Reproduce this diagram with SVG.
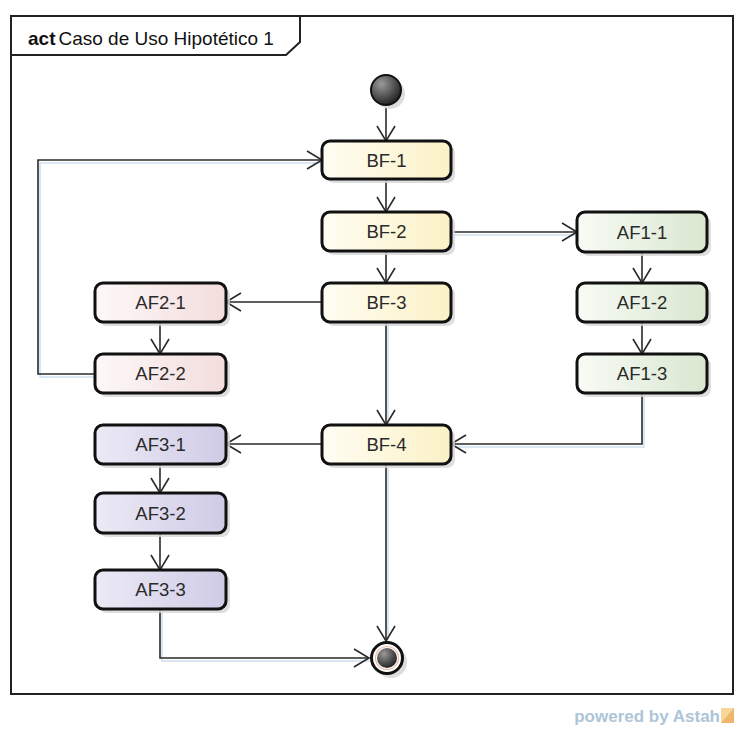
<svg xmlns="http://www.w3.org/2000/svg" width="737" height="735" viewBox="0 0 737 735">
  <defs>
    <style>
      .frame { fill: none; stroke: #222; stroke-width: 2; }
      .act { fill: #fff; stroke: #111; stroke-width: 3; }
      .shadow { fill: #d6d6d6; opacity: 0.8; }
      .lbl { font-family: "Liberation Sans", Arial, sans-serif; font-size: 18.5px; fill: #2a2a2a; text-anchor: middle; }
      .edge { fill: none; stroke: #2a2a2a; stroke-width: 1.6; }
      .edge-sh { fill: none; stroke: #cfe0ee; stroke-width: 1.6; }
    </style>
    <linearGradient id="gBF" x1="0" y1="0" x2="1" y2="0">
      <stop offset="0" stop-color="#fffdf3"/>
      <stop offset="1" stop-color="#fbf1c6"/>
    </linearGradient>
    <linearGradient id="gAF1" x1="0" y1="0" x2="1" y2="0">
      <stop offset="0" stop-color="#f8fbf5"/>
      <stop offset="1" stop-color="#d9e7d0"/>
    </linearGradient>
    <linearGradient id="gAF2" x1="0" y1="0" x2="1" y2="0">
      <stop offset="0" stop-color="#fdf8f8"/>
      <stop offset="1" stop-color="#f3dcdc"/>
    </linearGradient>
    <linearGradient id="gAF3" x1="0" y1="0" x2="1" y2="0">
      <stop offset="0" stop-color="#eceaf6"/>
      <stop offset="1" stop-color="#cfcbe6"/>
    </linearGradient>
    <radialGradient id="gDot" cx="0.35" cy="0.3" r="0.75">
      <stop offset="0" stop-color="#9a9a9a"/>
      <stop offset="1" stop-color="#1e1e1e"/>
    </radialGradient>
    <marker id="arr" markerUnits="userSpaceOnUse" markerWidth="20" markerHeight="20" viewBox="-16 -10 18 20" refX="0" refY="0" orient="auto">
      <path d="M -15 -9 L 0 0 L -15 9" fill="none" stroke="#2a2a2a" stroke-width="1.6"/>
    </marker>
  </defs>

  <rect width="737" height="735" fill="#fff"/>

  <!-- activity frame -->
  <g id="frame">
    <rect class="frame" x="11" y="16" width="722" height="678"/>
    <path d="M 11 55 L 286 55 L 300 42 L 300 16" fill="none" stroke="#222" stroke-width="2"/>
    <text x="28" y="45" font-family="Liberation Sans, Arial, sans-serif" font-size="19" fill="#111"><tspan font-weight="bold">act</tspan><tspan dx="3">Caso de Uso Hipotético 1</tspan></text>
  </g>

  <!-- connectors -->
  <g id="connectors">
    <g transform="translate(2,3)">
      <path class="edge-sh" d="M 95 374 L 38 374 L 38 160 L 322 160"/>
      <path class="edge-sh" d="M 642 393 L 642 444 L 451 444"/>
      <path class="edge-sh" d="M 160 609 L 160 658 L 369 658"/>
      <path class="edge-sh" d="M 451 232 L 577 232"/>
      <path class="edge-sh" d="M 386 464 L 386 641"/>
      <path class="edge-sh" d="M 386 322 L 386 425"/>
    </g>
    <path class="edge" marker-end="url(#arr)" d="M 386 107 L 386 141"/>
    <path class="edge" marker-end="url(#arr)" d="M 386 179 L 386 212"/>
    <path class="edge" marker-end="url(#arr)" d="M 451 232 L 577 232"/>
    <path class="edge" marker-end="url(#arr)" d="M 386 251 L 386 283"/>
    <path class="edge" marker-end="url(#arr)" d="M 322 302 L 226 302"/>
    <path class="edge" marker-end="url(#arr)" d="M 160 322 L 160 354"/>
    <path class="edge" marker-end="url(#arr)" d="M 95 374 L 38 374 L 38 160 L 322 160"/>
    <path class="edge" marker-end="url(#arr)" d="M 386 322 L 386 425"/>
    <path class="edge" marker-end="url(#arr)" d="M 642 252 L 642 283"/>
    <path class="edge" marker-end="url(#arr)" d="M 642 322 L 642 354"/>
    <path class="edge" marker-end="url(#arr)" d="M 642 393 L 642 444 L 451 444"/>
    <path class="edge" marker-end="url(#arr)" d="M 322 444 L 226 444"/>
    <path class="edge" marker-end="url(#arr)" d="M 160 464 L 160 493"/>
    <path class="edge" marker-end="url(#arr)" d="M 160 533 L 160 570"/>
    <path class="edge" marker-end="url(#arr)" d="M 160 609 L 160 658 L 369 658"/>
    <path class="edge" marker-end="url(#arr)" d="M 386 464 L 386 641"/>
  </g>

  <!-- initial node -->
  <g id="initial">
    <circle cx="390" cy="94" r="15" fill="#ddd"/>
    <circle cx="386" cy="90" r="15" fill="url(#gDot)" stroke="#111" stroke-width="2"/>
  </g>

  <!-- actions -->
  <g id="BF-1">
    <rect class="shadow" x="326" y="145" width="129" height="38" rx="8"/>
    <rect class="act" x="322" y="141" width="129" height="38" rx="8" style="fill:url(#gBF)"/>
    <text class="lbl" x="386.5" y="166.5">BF-1</text>
  </g>
  <g id="BF-2">
    <rect class="shadow" x="326" y="216" width="129" height="39" rx="8"/>
    <rect class="act" x="322" y="212" width="129" height="39" rx="8" style="fill:url(#gBF)"/>
    <text class="lbl" x="386.5" y="238">BF-2</text>
  </g>
  <g id="BF-3">
    <rect class="shadow" x="326" y="287" width="129" height="39" rx="8"/>
    <rect class="act" x="322" y="283" width="129" height="39" rx="8" style="fill:url(#gBF)"/>
    <text class="lbl" x="386.5" y="309">BF-3</text>
  </g>
  <g id="BF-4">
    <rect class="shadow" x="326" y="429" width="129" height="39" rx="8"/>
    <rect class="act" x="322" y="425" width="129" height="39" rx="8" style="fill:url(#gBF)"/>
    <text class="lbl" x="386.5" y="451">BF-4</text>
  </g>

  <g id="AF1-1">
    <rect class="shadow" x="581" y="216" width="130" height="40" rx="8"/>
    <rect class="act" x="577" y="212" width="130" height="40" rx="8" style="fill:url(#gAF1)"/>
    <text class="lbl" x="642" y="238.5">AF1-1</text>
  </g>
  <g id="AF1-2">
    <rect class="shadow" x="581" y="287" width="130" height="39" rx="8"/>
    <rect class="act" x="577" y="283" width="130" height="39" rx="8" style="fill:url(#gAF1)"/>
    <text class="lbl" x="642" y="309">AF1-2</text>
  </g>
  <g id="AF1-3">
    <rect class="shadow" x="581" y="358" width="130" height="39" rx="8"/>
    <rect class="act" x="577" y="354" width="130" height="39" rx="8" style="fill:url(#gAF1)"/>
    <text class="lbl" x="642" y="380">AF1-3</text>
  </g>

  <g id="AF2-1">
    <rect class="shadow" x="99" y="287" width="131" height="39" rx="8"/>
    <rect class="act" x="95" y="283" width="131" height="39" rx="8" style="fill:url(#gAF2)"/>
    <text class="lbl" x="160.5" y="309">AF2-1</text>
  </g>
  <g id="AF2-2">
    <rect class="shadow" x="99" y="358" width="131" height="39" rx="8"/>
    <rect class="act" x="95" y="354" width="131" height="39" rx="8" style="fill:url(#gAF2)"/>
    <text class="lbl" x="160.5" y="380">AF2-2</text>
  </g>

  <g id="AF3-1">
    <rect class="shadow" x="99" y="429" width="131" height="39" rx="8"/>
    <rect class="act" x="95" y="425" width="131" height="39" rx="8" style="fill:url(#gAF3)"/>
    <text class="lbl" x="160.5" y="451">AF3-1</text>
  </g>
  <g id="AF3-2">
    <rect class="shadow" x="99" y="497" width="131" height="40" rx="8"/>
    <rect class="act" x="95" y="493" width="131" height="40" rx="8" style="fill:url(#gAF3)"/>
    <text class="lbl" x="160.5" y="519.5">AF3-2</text>
  </g>
  <g id="AF3-3">
    <rect class="shadow" x="99" y="574" width="131" height="39" rx="8"/>
    <rect class="act" x="95" y="570" width="131" height="39" rx="8" style="fill:url(#gAF3)"/>
    <text class="lbl" x="160.5" y="596">AF3-3</text>
  </g>

  <!-- final node -->
  <g id="final">
    <circle cx="391" cy="662" r="16" fill="#ddd"/>
    <circle cx="387" cy="658" r="15.5" fill="#fff" stroke="#111" stroke-width="3"/>
    <circle cx="387" cy="658" r="11.5" fill="none" stroke="#e8b8a0" stroke-width="1.2"/>
    <circle cx="387" cy="658" r="10" fill="url(#gDot)"/>
  </g>

  <!-- footer -->
  <g id="footer">
    <text x="720" y="722" text-anchor="end" font-family="Liberation Sans, Arial, sans-serif" font-size="17" font-weight="bold" fill="#aec5d8">powered by Astah</text>
    <rect x="721" y="708" width="13" height="15" fill="#f6d79a"/>
    <path d="M 721 723 L 734 708 L 734 723 Z" fill="#f1b56b"/>
  </g>
</svg>
